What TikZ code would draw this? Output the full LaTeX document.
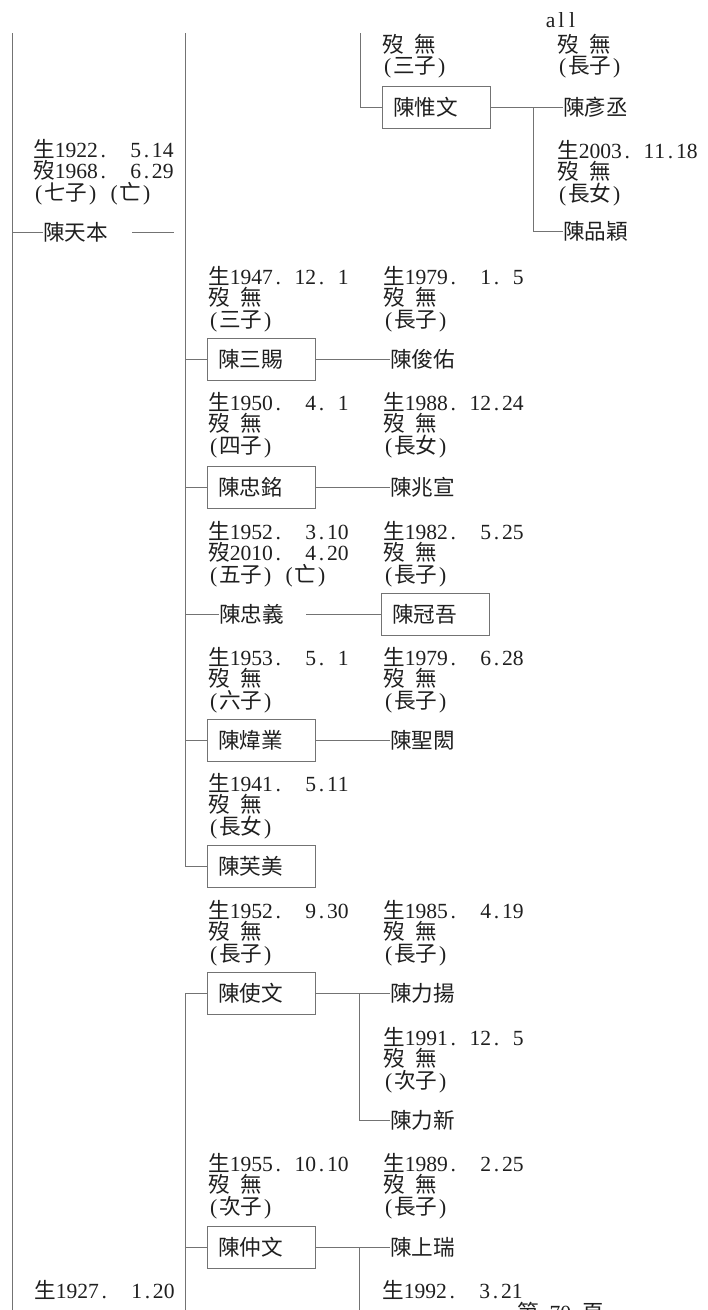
\documentclass[tikz,border=0pt]{standalone}
\usepackage{fontspec}
\setmainfont{Liberation Serif}
\newfontfamily\cjk{Noto Sans CJK TC}
\definecolor{inkc}{gray}{0.12}
\definecolor{linec}{gray}{0.45}
\makeatletter
\def\mono#1{\mono@loop#1\relax}
\def\mono@loop#1{\ifx\relax#1\else\mono@char{#1}\expandafter\mono@loop\fi}
\def\mono@char#1{\ifx_#1\hspace*{0.5em}\else\ifnum`#1>"2000\relax\makebox[1em]{\cjk#1}\else\makebox[0.5em]{#1}\fi\fi}
\makeatother
\newcommand\fsz{\fontsize{21.6}{21.5}\selectfont}
\newcommand\mline[1]{\hbox{\mono{#1}}}
\newcommand\blk[1]{\vtop{\baselineskip=21.5pt\lineskiplimit=-100pt\lineskip=0pt #1}}
\newcommand\mybx[1]{\makebox[86.4pt][l]{\mono{#1}}}
\tikzset{
  basetxt/.style={inner sep=0pt, text=inkc, font=\fsz},
  info/.style={basetxt, anchor=base west},
  nm/.style={basetxt, anchor=west},
  nbox/.style={basetxt, draw=linec, line width=1pt, anchor=west, minimum width=108pt, minimum height=42pt, inner xsep=10.8pt},
  ln/.style={draw=linec, line width=1pt}
}
\begin{document}
\begin{tikzpicture}[x=1pt,y=-1pt]
\fill[white] (0,0) rectangle (708,1310);
\useasboundingbox (0,0) rectangle (708,1310);

% trunk coordinates
\coordinate (t1a) at (12,33);
\coordinate (t1b) at (12,1310);
\coordinate (t2a) at (185,33);
\coordinate (t3a) at (360,33);
\coordinate (t5b) at (185,1310);

% ---- top right part ----
\node[info] (all) at (545,27) {\mline{all}};
\node[info] (i0a) at (382,52) {\blk{\mline{歿_無}\mline{(三子)}}};
\node[info] (i0b) at (557,52) {\blk{\mline{歿_無}\mline{(長子)}}};
\node[nbox] (weiwen) at (382,107) {\mybx{陳惟文}};
\node[nm] (yancheng) at (563,107) {\mono{陳彥丞}};
\node[info] (i0c) at (557,158) {\blk{\mline{生2003._11.18}\mline{歿_無}\mline{(長女)}}};
\node[nm] (pinying) at (563,231) {\mono{陳品穎}};
\coordinate (j1) at (533,107);

% ---- left column ----
\node[info] (i1) at (33,157) {\blk{\mline{生1922.__5.14}\mline{歿1968.__6.29}\mline{(七子)_(亡)}}};
\node[nm] (tianben) at (43,232) {\mono{陳天本}};
\coordinate (tbr) at (174,232);
\node[info] (i9) at (34,1298) {\mline{生1927.__1.20}};

% ---- second column ----
\node[info] (i2a) at (208,284) {\blk{\mline{生1947._12._1}\mline{歿_無}\mline{(三子)}}};
\node[info] (i2b) at (383,284) {\blk{\mline{生1979.__1._5}\mline{歿_無}\mline{(長子)}}};
\node[nbox] (sanci) at (207,359) {\mybx{陳三賜}};
\node[nm] (junyou) at (390,359) {\mono{陳俊佑}};

\node[info] (i3a) at (208,410) {\blk{\mline{生1950.__4._1}\mline{歿_無}\mline{(四子)}}};
\node[info] (i3b) at (383,410) {\blk{\mline{生1988._12.24}\mline{歿_無}\mline{(長女)}}};
\node[nbox] (zhongming) at (207,487) {\mybx{陳忠銘}};
\node[nm] (zhaoxuan) at (390,487) {\mono{陳兆宣}};

\node[info] (i4a) at (208,539) {\blk{\mline{生1952.__3.10}\mline{歿2010.__4.20}\mline{(五子)_(亡)}}};
\node[info] (i4b) at (383,539) {\blk{\mline{生1982.__5.25}\mline{歿_無}\mline{(長子)}}};
\node[nm] (zhongyi) at (219,614) {\mono{陳忠義}};
\node[nbox] (guanwu) at (381,614) {\mybx{陳冠吾}};

\node[info] (i5a) at (208,665) {\blk{\mline{生1953.__5._1}\mline{歿_無}\mline{(六子)}}};
\node[info] (i5b) at (383,665) {\blk{\mline{生1979.__6.28}\mline{歿_無}\mline{(長子)}}};
\node[nbox] (weiye) at (207,740) {\mybx{陳煒業}};
\node[nm] (shenghong) at (390,740) {\mono{陳聖閎}};

\node[info] (i6a) at (208,791) {\blk{\mline{生1941.__5.11}\mline{歿_無}\mline{(長女)}}};
\node[nbox] (fumei) at (207,866) {\mybx{陳芙美}};

\node[info] (i7a) at (208,918) {\blk{\mline{生1952.__9.30}\mline{歿_無}\mline{(長子)}}};
\node[info] (i7b) at (383,918) {\blk{\mline{生1985.__4.19}\mline{歿_無}\mline{(長子)}}};
\node[nbox] (shiwen) at (207,993) {\mybx{陳使文}};
\node[nm] (liyang) at (390,993) {\mono{陳力揚}};
\coordinate (j2) at (359,993);
\node[info] (i7c) at (383,1045) {\blk{\mline{生1991._12._5}\mline{歿_無}\mline{(次子)}}};
\node[nm] (lixin) at (390,1120) {\mono{陳力新}};

\node[info] (i8a) at (208,1171) {\blk{\mline{生1955._10.10}\mline{歿_無}\mline{(次子)}}};
\node[info] (i8b) at (383,1171) {\blk{\mline{生1989.__2.25}\mline{歿_無}\mline{(長子)}}};
\node[nbox] (zhongwen) at (207,1247) {\mybx{陳仲文}};
\node[nm] (shangrui) at (390,1247) {\mono{陳上瑞}};
\coordinate (j3) at (359,1247);
\coordinate (j3b) at (359,1310);
\node[info] (i8c) at (382,1298) {\mline{生1992.__3.21}};

\node[info] (page) at (517,1320) {\mono{第_70_頁}};

% ---- connectors ----
\draw[ln] (t1a) -- (t1b);
\draw[ln] (t1a |- tianben.west) -- (tianben.west);
\draw[ln] ([xshift=24pt]tianben.east) -- (tbr);

\draw[ln] (t2a) |- (fumei.west);
\draw[ln] (t2a |- sanci.west) -- (sanci.west);
\draw[ln] (t2a |- zhongming.west) -- (zhongming.west);
\draw[ln] (t2a |- zhongyi.west) -- (zhongyi.west);
\draw[ln] (t2a |- weiye.west) -- (weiye.west);

\draw[ln] (t3a) |- (weiwen.west);
\draw[ln] (weiwen.east) -- (yancheng.west);
\draw[ln] (j1) |- (pinying.west);

\draw[ln] (sanci.east) -- (junyou.west);
\draw[ln] (zhongming.east) -- (zhaoxuan.west);
\draw[ln] ([xshift=22pt]zhongyi.east) -- (guanwu.west);
\draw[ln] (weiye.east) -- (shenghong.west);

\draw[ln] (t5b) |- (shiwen.west);
\draw[ln] (shiwen.east) -- (liyang.west);
\draw[ln] (j2) |- (lixin.west);

\draw[ln] (t5b |- zhongwen.west) -- (zhongwen.west);
\draw[ln] (zhongwen.east) -- (shangrui.west);
\draw[ln] (j3) -- (j3b);
\end{tikzpicture}
\end{document}
